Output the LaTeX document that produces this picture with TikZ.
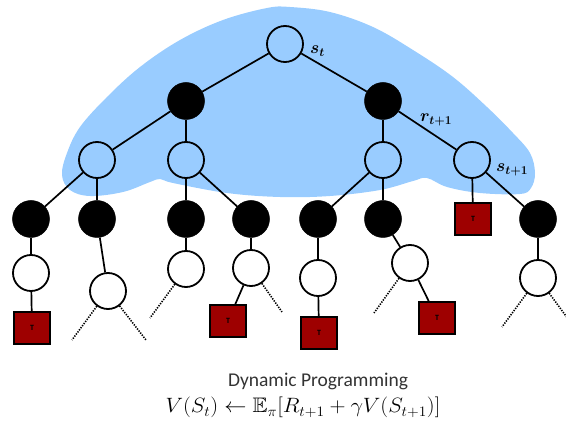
\documentclass[tikz,border=0pt]{standalone}
\usepackage{fontspec}
\usepackage{amssymb}
\usepackage{graphicx}
\newfontfamily\carlito{Carlito}
\definecolor{blobblue}{RGB}{153,204,255}
\definecolor{termred}{RGB}{158,0,0}
\begin{document}
\begin{tikzpicture}[x=1pt,y=-1pt,
  wnode/.style={circle, draw=black, line width=1.8pt, minimum size=36pt, inner sep=0pt},
  bnode/.style={circle, fill=black, draw=black, line width=0.5pt, minimum size=37pt, inner sep=0pt},
  tnode/.style={rectangle, draw=black, fill=termred, line width=1.5pt, minimum width=36pt, minimum height=32pt, inner sep=0pt, font=\carlito\fontsize{8}{8}\selectfont\bfseries, text=black},
  edge/.style={line width=1.7pt},
  dots/.style={line width=1.6pt, dash pattern=on 1.3pt off 1.3pt},
  lab/.style={inner sep=0pt, font=\fontsize{17}{17}\selectfont\boldmath}]
\useasboundingbox (0,0) rectangle (566,422);
% blob
\fill[blobblue] plot[smooth cycle, tension=0.6] coordinates {
 (290,7) (330,12) (373,27) (413,50) (453,77) (487,107) (513,133) (530,153)
 (535,173) (531,188) (520,194) (480,193) (447,187) (427,178) (413,181)
 (380,190) (330,196) (280,197) (227,193) (173,183) (160,179) (150,182)
 (123,192) (90,196) (70,190) (62,175) (67,153) (80,127) (107,97) (140,67)
 (180,40) (223,20) (267,8)};
% nodes
\node[wnode] (root) at (285,44) {};
\node[bnode] (b1) at (186,101) {};
\node[bnode] (b2) at (383,101) {};
\node[wnode] (w1) at (97,160) {};
\node[wnode] (w2) at (186,160) {};
\node[wnode] (w3) at (383,160) {};
\node[wnode] (w4) at (472,160) {};
\node[bnode] (c1) at (31,219) {};
\node[bnode] (c2) at (97,219) {};
\node[bnode] (c3) at (186,219) {};
\node[bnode] (c4) at (251,219) {};
\node[bnode] (c5) at (318,219) {};
\node[bnode] (c6) at (383,219) {};
\node[tnode] (t1) at (473,219) {T};
\node[bnode] (c8) at (538,219) {};
\node[wnode] (d1) at (31,273) {};
\node[wnode] (d2) at (108,291) {};
\node[wnode] (d3) at (186,269) {};
\node[wnode] (d4) at (251,268) {};
\node[wnode] (d5) at (318,278) {};
\node[wnode] (d6) at (410,263) {};
\node[wnode] (d8) at (538,278) {};
\node[tnode] (s1) at (32,328) {T};
\node[tnode] (s2) at (228,321) {T};
\node[tnode] (s3) at (319,333) {T};
\node[tnode] (s4) at (437,318) {T};
% free ends of dotted lines
\coordinate (e1) at (72,340);
\coordinate (e2) at (146,340);
\coordinate (e3) at (150,318);
\coordinate (e4) at (282,312);
\coordinate (e5) at (374,313);
\coordinate (e6) at (502,327);
\coordinate (e7) at (574,327);
% edges
\draw[edge] (root) -- (b1);
\draw[edge] (root) -- (b2);
\draw[edge] (b1) -- (w1);
\draw[edge] (b1) -- (w2);
\draw[edge] (b2) -- (w3);
\draw[edge] (b2) -- (w4);
\draw[edge] (w1) -- (c1);
\draw[edge] (w1) -- (c2);
\draw[edge] (w2) -- (c3);
\draw[edge] (w2) -- (c4);
\draw[edge] (w3) -- (c5);
\draw[edge] (w3) -- (c6);
\draw[edge] (w4) -- (t1);
\draw[edge] (w4) -- (c8);
\draw[edge] (c1) -- (d1);
\draw[edge] (d1) -- (s1);
\draw[edge] (c2) -- (d2);
\draw[edge] (c3) -- (d3);
\draw[edge] (c4) -- (d4);
\draw[edge] (d4) -- (s2);
\draw[edge] (c5) -- (d5);
\draw[edge] (d5) -- (s3);
\draw[edge] (c6) -- (d6);
\draw[edge] (d6) -- (s4);
\draw[edge] (c8) -- (d8);
\draw[dots] (d2) -- (e1);
\draw[dots] (d2) -- (e2);
\draw[dots] (d3) -- (e3);
\draw[dots] (d4) -- (e4);
\draw[dots] (d6) -- (e5);
\draw[dots] (d8) -- (e6);
\draw[dots] (d8) -- (e7);
% labels
\node[lab, anchor=base west] (lst) at (310,54) {$s_t$};
\node[lab, anchor=base west] (lr) at (420,122) {$r_{t+1}$};
\node[lab, anchor=base west] (ls1) at (496,172) {$s_{t+1}$};
% caption
\node[anchor=base, inner sep=0pt, text=black!80, font=\carlito\fontsize{19.5}{20}\selectfont] (title) at (318,387) {Dynamic Programming};
\node[anchor=base, inner sep=0pt, font=\fontsize{21}{23}\selectfont] (formula) at (303,413)
  {\scalebox{1.07}[1]{$V(S_t) \leftarrow \mathbb{E}_\pi[R_{t+1} + \gamma V(S_{t+1})]$}};
\end{tikzpicture}
\end{document}
